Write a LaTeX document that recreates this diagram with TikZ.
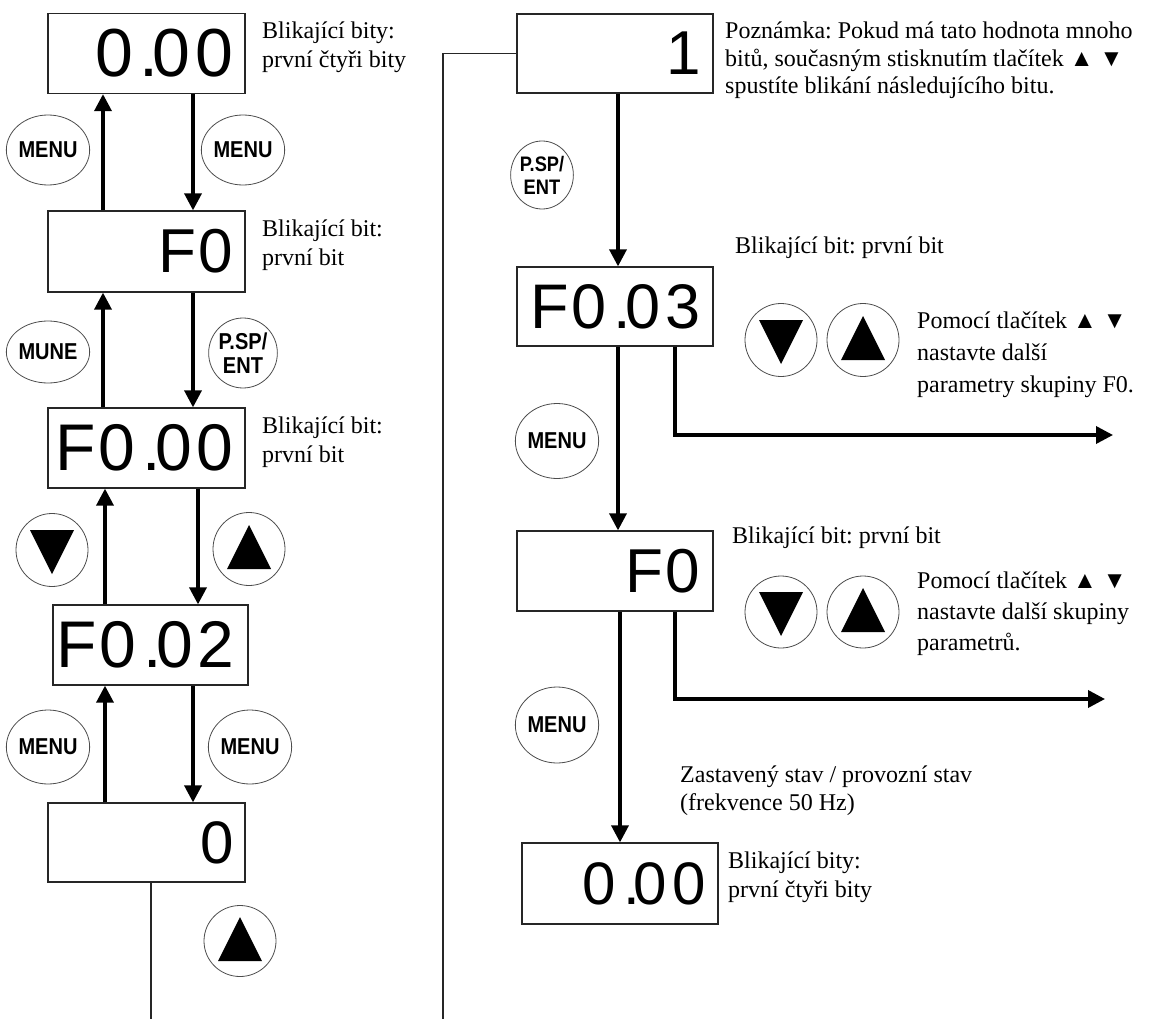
\documentclass[tikz,border=0pt]{standalone}
\usepackage{fontspec}
\usepackage{graphicx}
\setmainfont{Liberation Serif}
\newfontfamily\digitfont{Liberation Sans}
\usetikzlibrary{arrows.meta,shapes.geometric}
\frenchspacing
\newcommand{\dgf}[1]{\digitfont\fontsize{#1}{#1}\selectfont}
\newcommand{\dotk}{\kern7pt.\kern-6pt}
\newcommand{\dsp}{\kern5pt}
\newcommand{\bt}[1]{\scalebox{0.87}[1]{#1}}
\newcommand{\uptri}[1]{\fill ([shift={(0,-24)}]#1.center) -- ([shift={(-22,20)}]#1.center) -- ([shift={(22,20)}]#1.center) -- cycle;}
\newcommand{\dntri}[1]{\fill ([shift={(0,24)}]#1.center) -- ([shift={(-22,-20)}]#1.center) -- ([shift={(22,-20)}]#1.center) -- cycle;}
\tikzset{
  disp/.style={draw=black!85, line width=1.3pt, inner sep=0pt, minimum width=197pt, minimum height=80pt},
  dig/.style={anchor=east, inner sep=0pt},
  btn/.style={ellipse, draw=black!70, line width=0.8pt, inner sep=0pt, align=center,
    font=\digitfont\bfseries\fontsize{23}{24}\selectfont},
  note/.style={anchor=base west, inner sep=0pt, font=\fontsize{24}{28}\selectfont},
  flow/.style={line width=3.5pt, -{Triangle[length=17pt,width=17pt]}},
  thinline/.style={line width=1.2pt, draw=black!85},
}
\begin{document}
\begin{tikzpicture}[x=1pt,y=-1pt]
\useasboundingbox (0,0) rectangle (1150,1019);

% ---------- left column boxes
\node[disp] (b1) at (146.5,53.5) {};
\node[disp, minimum height=81pt] (b2) at (146.5,251.5) {};
\node[disp] (b3) at (146.5,448) {};
\node[disp, minimum width=195pt] (b4) at (150.5,645) {};
\node[disp, minimum height=79pt] (b5) at (146.5,842.5) {};

\node[dig, font=\dgf{68}] (d1) at ([xshift=-12pt]b1.east) {0\dotk 0\dsp 0};
\node[dig, font=\dgf{62}] (d2) at ([xshift=-12pt]b2.east) {F\kern3pt 0};
\node[dig, font=\dgf{66}] (d3) at ([xshift=-12pt]b3.east) {F\kern3pt 0\dotk 0\dsp 0};
\node[dig, font=\dgf{66}] (d4) at ([xshift=-14pt]b4.east) {F\kern3pt 0\dotk 0\dsp 2};
\node[dig, font=\dgf{60}] (d5) at ([xshift=-12pt]b5.east) {0};

% ---------- right column boxes
\node[disp, minimum width=196pt, minimum height=79pt] (r1) at (615,53.5) {};
\node[disp, minimum width=196pt, minimum height=79pt] (r2) at (615,306.5) {};
\node[disp, minimum width=196pt] (r3) at (615,571) {};
\node[disp, minimum width=196pt, minimum height=81pt] (r4) at (620,883.5) {};

\node[dig, font=\dgf{62}] (e1t) at ([xshift=-12pt]r1.east) {1};
\node[dig, font=\dgf{63}] (e2t) at ([xshift=-13pt]r2.east) {F\kern3pt 0\dotk 0\dsp 3};
\node[dig, font=\dgf{62}] (e3t) at ([xshift=-13pt]r3.east) {F\kern3pt 0};
\node[dig, font=\dgf{60}] (e4t) at ([xshift=-13pt]r4.east) {0\dotk 0\dsp 0};

% ---------- left buttons
\node[btn, minimum width=79pt, minimum height=70pt] (m1) at (48,150) {\bt{MENU}};
\node[btn, minimum width=79pt, minimum height=70pt] (m2) at (243,150) {\bt{MENU}};
\node[btn, minimum width=80pt, minimum height=62pt] (m3) at (48,352) {\bt{MUNE}};
\node[btn, minimum width=64pt, minimum height=70pt] (m4) at (243,353) {\bt{P.SP/}\\\bt{ENT}};
\node[btn, minimum width=72pt, minimum height=73pt] (m5) at (52,550) {};
\node[btn, minimum width=72pt, minimum height=73pt] (m6) at (249,549) {};
\node[btn, minimum width=79pt, minimum height=74pt] (m7) at (48,747) {\bt{MENU}};
\node[btn, minimum width=79pt, minimum height=74pt] (m8) at (250,747) {\bt{MENU}};
\node[btn, minimum width=72pt, minimum height=71pt] (m9) at (240,941) {};
\dntri{m5}
\uptri{m6}
\uptri{m9}

% ---------- right buttons
\node[btn, minimum width=58pt, minimum height=68pt, font=\digitfont\bfseries\fontsize{21}{23}\selectfont] (n1) at (542,175) {\bt{P.SP/}\\\bt{ENT}};
\node[btn, minimum width=72pt, minimum height=73pt] (n2) at (781,340) {};
\node[btn, minimum width=72pt, minimum height=73pt] (n3) at (863,340) {};
\node[btn, minimum width=78pt, minimum height=75pt] (n4) at (557,441) {\bt{MENU}};
\node[btn, minimum width=72pt, minimum height=72pt] (n5) at (781,612) {};
\node[btn, minimum width=72pt, minimum height=72pt] (n6) at (863,612) {};
\node[btn, minimum width=79pt, minimum height=76pt] (n7) at (557,725) {\bt{MENU}};
\dntri{n2}
\uptri{n3}
\dntri{n5}
\uptri{n6}

% ---------- left arrows
\coordinate (xa) at (103,0);
\coordinate (xb) at (193,0);
\coordinate (xc) at (105,0);
\coordinate (xd) at (198,0);
\draw[flow] (b2.north -| xa) -- (b1.south -| xa);
\draw[flow] (b1.south -| xb) -- (b2.north -| xb);
\draw[flow] (b3.north -| xa) -- (b2.south -| xa);
\draw[flow] (b2.south -| xb) -- (b3.north -| xb);
\draw[flow] (b4.north -| xc) -- (b3.south -| xc);
\draw[flow] (b3.south -| xd) -- (b4.north -| xd);
\draw[flow] (b5.north -| xc) -- (b4.south -| xc);
\draw[flow] (b4.south -| xb) -- (b5.north -| xb);

% ---------- right arrows
\coordinate (xr) at (618,0);
\coordinate (xs) at (620,0);
\coordinate (xt) at (675,0);
\coordinate (a1) at (1113,435);
\coordinate (a2) at (1105,699);
\draw[flow] (r1.south -| xr) -- (r2.north -| xr);
\draw[flow] (r2.south -| xr) -- (r3.north -| xr);
\draw[flow] (r3.south -| xs) -- (r4.north -| xs);
\draw[flow] (r2.south -| xt) |- (a1);
\draw[flow] (r3.south -| xt) |- (a2);

% ---------- thin connectors
\coordinate (end1) at (151,1019);
\coordinate (end2) at (443,1019);
\draw[thinline] (b5.south -| end1) -- (end1);
\draw[thinline] (r1.west) -- (r1.west -| end2) -- (end2);

% ---------- notes
\node[note] (l1a) at (262,39) {Blikající bity:};
\node[note] (l1b) at (262,68) {první čtyři bity};
\node[note] (l2a) at (262,236) {Blikající bit:};
\node[note] (l2b) at (262,265) {první bit};
\node[note] (l3a) at (262,433) {Blikající bit:};
\node[note] (l3b) at (262,462) {první bit};

\node[note] (q1a) at (725,39) {Poznámka: Pokud má tato hodnota mnoho};
\node[note] (q1b) at (725,66.5) {bitů, současným stisknutím tlačítek ▲ ▼};
\node[note] (q1c) at (725,94) {spustíte blikání následujícího bitu.};
\node[note] (q2) at (735,253) {Blikající bit: první bit};
\node[note] (q3a) at (917,328) {Pomocí tlačítek ▲ ▼};
\node[note] (q3b) at (917,360) {nastavte další};
\node[note] (q3c) at (917,392) {parametry skupiny F0.};
\node[note] (q4) at (732,543) {Blikající bit: první bit};
\node[note] (q5a) at (917,588) {Pomocí tlačítek ▲ ▼};
\node[note] (q5b) at (917,619) {nastavte další skupiny};
\node[note] (q5c) at (917,650) {parametrů.};
\node[note] (q6a) at (680,782) {Zastavený stav / provozní stav};
\node[note] (q6b) at (680,810) {(frekvence 50 Hz)};
\node[note] (q7a) at (728,868) {Blikající bity:};
\node[note] (q7b) at (728,897) {první čtyři bity};
\end{tikzpicture}
\end{document}
